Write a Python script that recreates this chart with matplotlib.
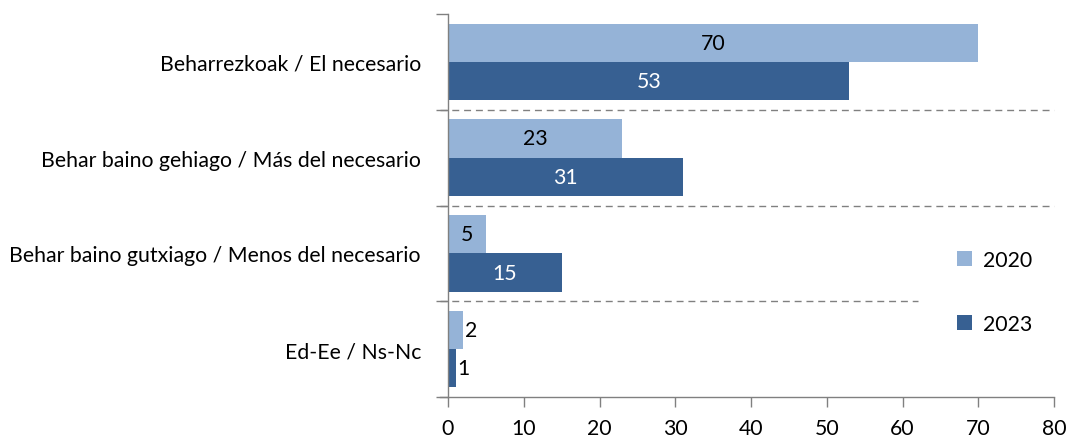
import numpy as np
import matplotlib.pyplot as plt

categories = ['Beharrezkoak / El necesario',
              'Behar baino gehiago / Más del necesario',
              'Behar baino gutxiago / Menos del necesario',
              'Ed-Ee / Ns-Nc']
values_2020 = [70, 23, 5, 2]
values_2023 = [53, 31, 15, 1]
series_names = ['2020', '2023']

light = '#95B3D7'
dark = '#376092'
plt.rcParams['font.family'] = ['Lato', 'DejaVu Sans']
fs = 15.3

fig = plt.figure(figsize=(10.69, 4.39), dpi=100)
ax = fig.add_axes([448 / 1069, 1 - 398 / 439, 606 / 1069, 383 / 439])

n = len(categories)
y = np.arange(n)[::-1].astype(float)  # first category on top
h = 0.4
b1 = ax.barh(y + h / 2, values_2020, height=h, color=light, label=series_names[0])
b2 = ax.barh(y - h / 2, values_2023, height=h, color=dark, label=series_names[1])

# value labels: inside when bar is wide, outside otherwise
for bars, vals, txtcol in [(b1, values_2020, 'black'), (b2, values_2023, 'white')]:
    for rect, v in zip(bars, vals):
        cy = rect.get_y() + rect.get_height() / 2
        if v >= 5:
            ax.text(v / 2, cy, str(v), ha='center', va='center', color=txtcol, fontsize=fs)
        else:
            ax.text(v + 0.2, cy, str(v), ha='left', va='center', color='black', fontsize=fs)

ax.set_xlim(0, 80)
ax.set_ylim(-0.5, n - 0.5)
ax.set_xticks(np.arange(0, 81, 10))
ax.tick_params(axis='x', length=7, width=1, color='#808080', labelsize=fs, pad=8)

ax.set_yticks(y)
ax.set_yticklabels(categories, fontsize=fs)
ax.tick_params(axis='y', which='major', length=0, pad=19.5)
ax.set_yticks(np.arange(-0.5, n, 1.0), minor=True)
ax.tick_params(axis='y', which='minor', length=9, width=1, color='#808080')

for s in ['top', 'right']:
    ax.spines[s].set_visible(False)
for s in ['left', 'bottom']:
    ax.spines[s].set_color('#808080')
    ax.spines[s].set_linewidth(1)
ax.spines['bottom'].set_bounds(-8 / 606 * 80, 80)

# dashed separators between groups
for i, yy in enumerate(np.arange(0.5, n - 1, 1.0)):
    xend = 62 if i == 0 else 80
    ax.plot([-8 / 606 * 80, xend], [yy, yy], ls=(0, (5, 3.5)), color='#808080',
            lw=1, clip_on=False)

fig.legend(handles=[b1, b2], labels=series_names, loc='center left',
           bbox_to_anchor=(938 / 1069, 1 - 293 / 439), frameon=False, fontsize=fs,
           handlelength=0.7, handleheight=0.7, labelspacing=2.1, handletextpad=0.5)

fig.savefig('out.png', dpi=100)
